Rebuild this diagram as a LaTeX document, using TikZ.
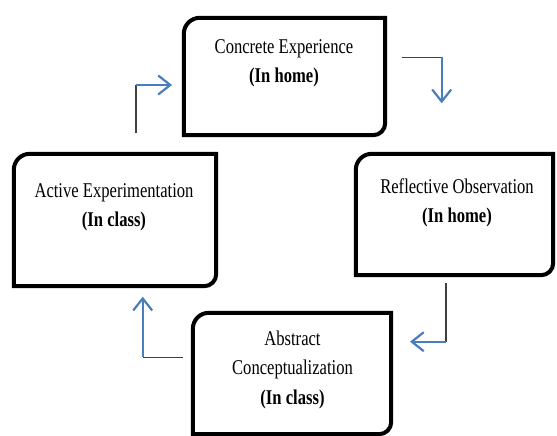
\documentclass[tikz,border=0pt]{standalone}
\usepackage{fontspec}
\setmainfont{Liberation Serif}[FakeStretch=0.79]
\usetikzlibrary{arrows.meta,calc}
\definecolor{arrowblue}{HTML}{4A7EBB}
\definecolor{lineblack}{HTML}{404040}
\tikzset{
  boxframe/.style={rectangle, inner sep=0pt},
  boxline/.style={line width=4pt, draw=black, line join=miter},
  boxtext/.style={align=center, font=\fontsize{21}{29.5}\selectfont, inner sep=0pt},
  legblack/.style={draw=lineblack, line width=1.5pt},
  legblue/.style={draw=arrowblue, line width=2.2pt, -{Straight Barb[length=12pt,width=19pt]}},
}
\newcommand\drawframe[1]{%
  \draw[boxline] (#1.south west) -- ($(#1.north west)+(0,16)$)
    .. controls ($(#1.north west)+(0,7.2)$) and ($(#1.north west)+(7.2,0)$) .. ($(#1.north west)+(16,0)$)
    -- (#1.north east) -- ($(#1.south east)+(0,-12)$)
    .. controls ($(#1.south east)+(0,-5.4)$) and ($(#1.south east)+(-5.4,0)$) .. ($(#1.south east)+(-12,0)$)
    -- cycle;}
\begin{document}
\begin{tikzpicture}[x=1pt,y=-1pt]
\useasboundingbox (0,0) rectangle (557,436);
% boxes
\node[boxframe, minimum width=201pt, minimum height=117pt] (ce) at (284.5,76.5) {};
\node[boxframe, minimum width=202pt, minimum height=132pt] (ae) at (115,220) {};
\node[boxframe, minimum width=197pt, minimum height=121pt] (ro) at (454.5,214.5) {};
\node[boxframe, minimum width=198pt, minimum height=121pt] (ac) at (292,373.5) {};
\drawframe{ce}
\drawframe{ae}
\drawframe{ro}
\drawframe{ac}
% texts
\node[boxtext] (cet) at (284,63.3) {Concrete Experience\\\textbf{(In home)}};
\node[boxtext] (aet) at (114,207.3) {Active Experimentation\\\textbf{(In class)}};
\node[boxtext] (rot) at (457,202.8) {Reflective Observation\\\textbf{(In home)}};
\node[boxtext] (act) at (292.5,369.5) {Abstract\\Conceptualization\\\textbf{(In class)}};
% connector points
\coordinate (tl1) at (136,133);
\coordinate (tl2) at (136,85);
\coordinate (tl3) at (172,85);
\coordinate (tr1) at (401.7,57.3);
\coordinate (tr2) at (441.7,57.3);
\coordinate (tr3) at (441.7,103.3);
\coordinate (br1) at (446,283);
\coordinate (br2) at (446,341.7);
\coordinate (br3) at (410,341.7);
\coordinate (bl1) at (183.3,357.3);
\coordinate (bl2) at (142.7,357.3);
\coordinate (bl3) at (142.7,296.7);
% connectors
\draw[legblack] (tl1) -- (tl2);
\draw[legblue] (tl2) -- (tl3);
\draw[legblack] (tr1) -- (tr2);
\draw[legblue] (tr2) -- (tr3);
\draw[legblack] (br1) -- (br2);
\draw[legblue] (br2) -- (br3);
\draw[legblack] (bl1) -- (bl2);
\draw[legblue] (bl2) -- (bl3);
\end{tikzpicture}
\end{document}
